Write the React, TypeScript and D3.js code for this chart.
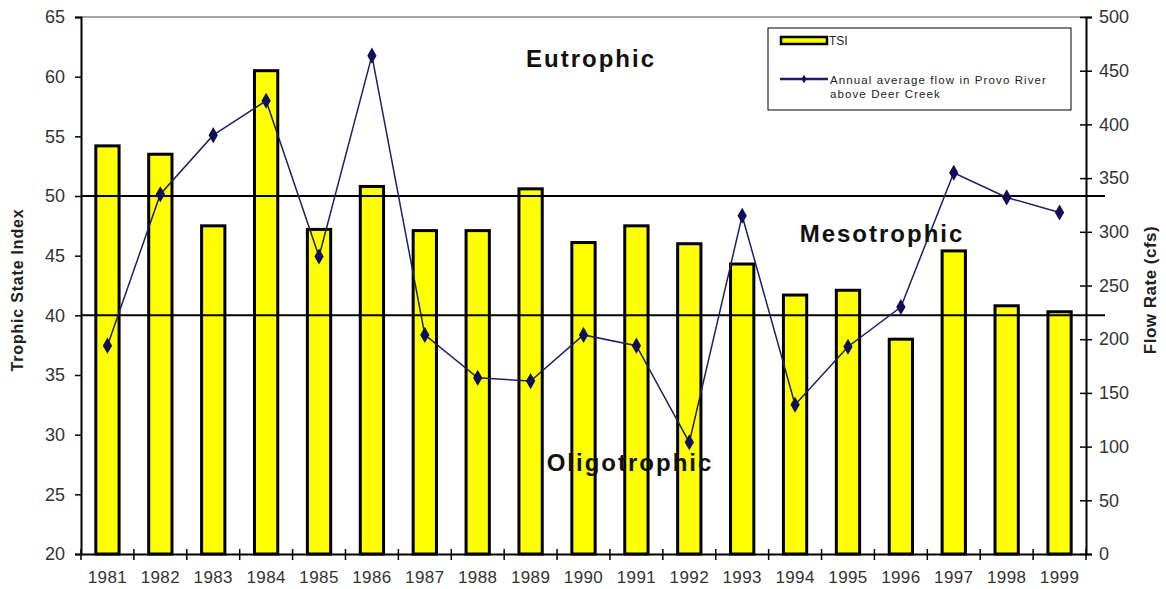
import React, { useEffect, useRef } from 'react';
import * as d3 from 'd3';

const years: string[] = ['1981', '1982', '1983', '1984', '1985', '1986', '1987', '1988', '1989', '1990', '1991', '1992', '1993', '1994', '1995', '1996', '1997', '1998', '1999'];
const tsi: number[] = [54.2, 53.5, 47.5, 60.5, 47.2, 50.8, 47.1, 47.1, 50.6, 46.1, 47.5, 46.0, 44.3, 41.7, 42.1, 38.0, 45.4, 40.8, 40.3];
const flow: number[] = [194, 335, 390, 422, 277, 464, 204, 164, 161, 204, 194, 104, 315, 139, 193, 230, 355, 332, 318];
const leftTicks: number[] = [20, 25, 30, 35, 40, 45, 50, 55, 60, 65];
const rightTicks: number[] = [0, 50, 100, 150, 200, 250, 300, 350, 400, 450, 500];
const boundaries: number[] = [40, 50];

const W = 1166;
const H = 589;

const App: React.FC = () => {
  const svgRef = useRef<SVGSVGElement | null>(null);

  useEffect(() => {
    const svg = d3.select(svgRef.current);
    svg.selectAll('*').remove();

    const left = 81;
    const right = 1086;
    const top = 17;
    const bottom = 554;
    const font = 'Arial, "Liberation Sans", sans-serif';

    const x = d3.scaleBand<string>().domain(years).range([left, right]);
    const yL = d3.scaleLinear().domain([20, 65]).range([bottom, top]);
    const yR = d3.scaleLinear().domain([0, 500]).range([bottom, top]);

    // top border
    svg.append('line')
      .attr('x1', left).attr('x2', right)
      .attr('y1', top).attr('y2', top)
      .attr('stroke', '#888').attr('stroke-width', 1.5);

    // bars
    const bw = x.bandwidth() * 0.44;
    svg.append('g')
      .selectAll('rect')
      .data(years)
      .join('rect')
      .attr('x', d => (x(d) as number) + x.bandwidth() / 2 - bw / 2)
      .attr('width', bw)
      .attr('y', (d, i) => yL(tsi[i]))
      .attr('height', (d, i) => bottom - yL(tsi[i]))
      .attr('fill', '#ffff00')
      .attr('stroke', '#000')
      .attr('stroke-width', 3);

    // trophic boundaries
    svg.append('g')
      .selectAll('line')
      .data(boundaries)
      .join('line')
      .attr('x1', left).attr('x2', right + 19)
      .attr('y1', d => yL(d)).attr('y2', d => yL(d))
      .attr('stroke', '#000').attr('stroke-width', 2);

    // flow line
    const line = d3.line<number>()
      .x((d, i) => (x(years[i]) as number) + x.bandwidth() / 2)
      .y(d => yR(d));
    svg.append('path')
      .datum(flow)
      .attr('d', line)
      .attr('fill', 'none')
      .attr('stroke', '#1f1f66')
      .attr('stroke-width', 1.5);

    const diamond = d3.symbol().type(d3.symbolDiamond).size(75);
    svg.append('g')
      .selectAll('path')
      .data(flow)
      .join('path')
      .attr('d', diamond)
      .attr('transform', (d, i) => `translate(${(x(years[i]) as number) + x.bandwidth() / 2},${yR(d)})`)
      .attr('fill', '#10105a');

    // left axis
    const gL = svg.append('g')
      .attr('transform', `translate(${left},0)`)
      .call(d3.axisLeft(yL).tickValues(leftTicks).tickSize(6).tickPadding(10));
    gL.select('.domain').attr('stroke', '#000').attr('stroke-width', 2);
    gL.selectAll('.tick line').attr('stroke', '#000').attr('stroke-width', 1.5);
    gL.selectAll('.tick text').attr('font-size', 18).attr('font-family', font).attr('fill', '#333');

    // right axis
    const gR = svg.append('g')
      .attr('transform', `translate(${right},0)`)
      .call(d3.axisRight(yR).tickValues(rightTicks).tickSize(6).tickPadding(7));
    gR.select('.domain').attr('stroke', '#000').attr('stroke-width', 2);
    gR.selectAll('.tick line').attr('stroke', '#000').attr('stroke-width', 1.5).attr('x1', -6);
    gR.selectAll('.tick text').attr('font-size', 18).attr('font-family', font).attr('fill', '#333');

    // bottom axis
    const gB = svg.append('g')
      .attr('transform', `translate(0,${bottom})`)
      .call(d3.axisBottom(x).tickSize(0).tickPadding(17));
    gB.select('.domain').attr('stroke', '#000').attr('stroke-width', 2);
    gB.selectAll('.tick text').attr('font-size', 17).attr('letter-spacing', 0.4).attr('font-family', font).attr('fill', '#333');
    gB.append('g')
      .selectAll('line')
      .data(years.concat(['end']))
      .join('line')
      .attr('x1', (d, i) => left + i * x.step())
      .attr('x2', (d, i) => left + i * x.step())
      .attr('y1', -5).attr('y2', 6)
      .attr('stroke', '#000').attr('stroke-width', 1.5);

    // zone labels
    const zones = [
      { t: 'Eutrophic', x: 591, y: 67 },
      { t: 'Mesotrophic', x: 882, y: 242 },
      { t: 'Oligotrophic', x: 630, y: 471 },
    ];
    svg.append('g')
      .selectAll('text')
      .data(zones)
      .join('text')
      .attr('x', d => d.x).attr('y', d => d.y)
      .attr('text-anchor', 'middle')
      .attr('font-family', font)
      .attr('font-weight', 'bold')
      .attr('font-size', 24)
      .attr('letter-spacing', 2)
      .attr('fill', '#111')
      .text(d => d.t);

    // axis titles
    svg.append('text')
      .attr('transform', `translate(23,290) rotate(-90)`)
      .attr('text-anchor', 'middle')
      .attr('font-family', font).attr('font-weight', 'bold').attr('font-size', 16)
      .attr('letter-spacing', 0.8)
      .attr('fill', '#222')
      .text('Trophic State Index');
    svg.append('text')
      .attr('transform', `translate(1156,290) rotate(-90)`)
      .attr('text-anchor', 'middle')
      .attr('font-family', font).attr('font-weight', 'bold').attr('font-size', 17)
      .attr('letter-spacing', 0.5)
      .attr('fill', '#222')
      .text('Flow Rate (cfs)');

    // legend
    const lg = svg.append('g');
    lg.append('rect')
      .attr('x', 768).attr('y', 28).attr('width', 303).attr('height', 82)
      .attr('fill', '#fff').attr('stroke', '#000').attr('stroke-width', 1);
    lg.append('rect')
      .attr('x', 781).attr('y', 37).attr('width', 46).attr('height', 7)
      .attr('fill', '#ffff00').attr('stroke', '#000').attr('stroke-width', 2.5);
    lg.append('text')
      .attr('x', 829).attr('y', 45)
      .attr('font-family', font).attr('font-size', 12).attr('fill', '#222')
      .text('TSI');
    lg.append('line')
      .attr('x1', 780).attr('x2', 828).attr('y1', 79).attr('y2', 79)
      .attr('stroke', '#1f1f66').attr('stroke-width', 2.5);
    lg.append('path')
      .attr('d', d3.symbol().type(d3.symbolDiamond).size(22))
      .attr('transform', 'translate(804,79)')
      .attr('fill', '#10105a');
    lg.append('text')
      .attr('x', 830).attr('y', 84)
      .attr('font-family', font).attr('font-size', 11.5).attr('letter-spacing', 1.1).attr('fill', '#222')
      .text('Annual average flow in Provo River');
    lg.append('text')
      .attr('x', 830).attr('y', 98)
      .attr('font-family', font).attr('font-size', 11.5).attr('letter-spacing', 1.1).attr('fill', '#222')
      .text('above Deer Creek');
  }, []);

  return (
    <svg
      ref={svgRef}
      width={W}
      height={H}
      style={{ position: 'absolute', left: 0, top: 0, background: '#fff' }}
    />
  );
};

export default App;
